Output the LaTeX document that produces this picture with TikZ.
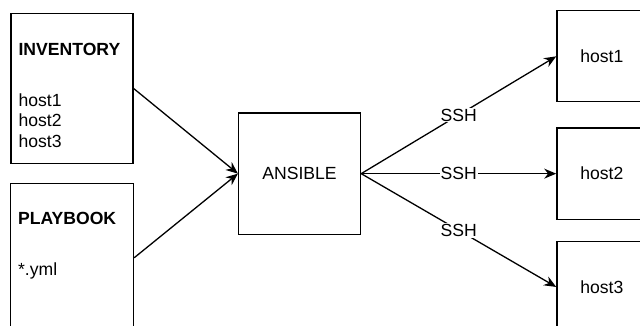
\documentclass[tikz,border=0pt]{standalone}
\usepackage{fontspec}
\setmainfont{Liberation Sans}
\usetikzlibrary{arrows.meta,positioning,calc}

\begin{document}
\begin{tikzpicture}[x=1pt,y=-1pt,
			bloque/.style={draw,line width=1.3pt,minimum width=122pt,minimum height=150pt,inner sep=0pt},
			motor/.style={draw,line width=1.3pt,minimum width=122pt,minimum height=121pt,font=\fontsize{17.6}{21}\selectfont},
			equipo/.style={draw,line width=1.3pt,minimum width=90pt,minimum height=91pt,font=\fontsize{17.6}{21}\selectfont},
			texto/.style={anchor=north west,inner sep=0pt,align=left,font=\fontsize{17.6}{20.5}\selectfont},
			flecha/.style={draw,line width=1.3pt,-{Stealth[length=12pt,width=10pt]}},
			canal/.style={fill=white,inner sep=1pt,font=\fontsize{17.6}{21}\selectfont}
			]
			\useasboundingbox (0,0) rectangle (640,326);
			\node[bloque] (inv) at (72,88.5) {};
			\node[bloque,minimum width=123pt,minimum height=148pt] (play) [below=19pt of inv] {};
			\node[texto] (invtxt) at ($(inv.north west)+(8,30)$) {\textbf{INVENTORY}\\[30.5pt]host1\\host2\\host3};
			\node[texto] (playtxt) at ($(play.north west)+(8,29)$) {\textbf{PLAYBOOK}\\[30.5pt]*.yml};
			\coordinate (medio) at ($(inv.south east)!.5!(play.north east)$);
			\node[motor] (ans) [right=104pt of medio] {ANSIBLE};
			\node[equipo] (h2) [right=195pt of ans] {host2};
			\node[equipo] (h1) [above=25pt of h2] {host1};
			\node[equipo] (h3) [below=21pt of h2] {host3};
			\draw[flecha] (inv.east) -- (ans.west);
			\draw[flecha] (play.east) -- (ans.west);
			\draw[flecha] (ans.east) -- node[canal]{SSH} (h1.west);
			\draw[flecha] (ans.east) -- node[canal]{SSH} (h2.west);
			\draw[flecha] (ans.east) -- node[canal]{SSH} (h3.west);
		\end{tikzpicture}
\end{document}
